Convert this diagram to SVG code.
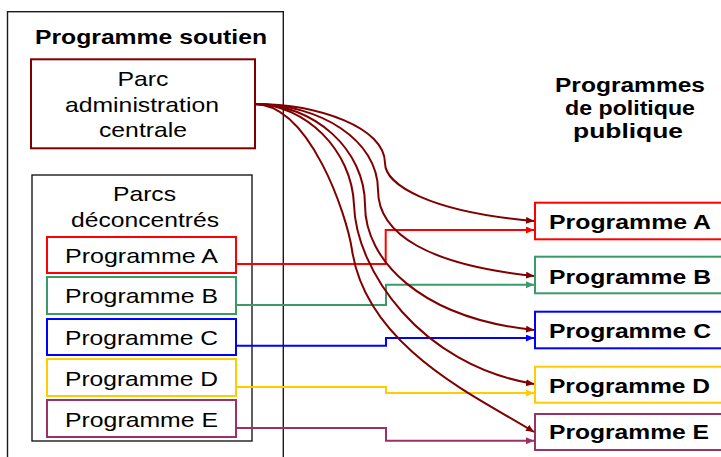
<svg xmlns="http://www.w3.org/2000/svg" width="721" height="457" viewBox="0 0 721 457">
<style>
text{font-family:"Liberation Sans",Arial,sans-serif;fill:#000}
.b{font-weight:bold}
.r{font-size:21px}
.h{font-size:21px;font-weight:bold}
.frame{fill:none;stroke:#1a1a1a;stroke-width:1.4}
.box{fill:#fff;stroke-width:2}
.ln{fill:none;stroke-width:2}
</style>
<defs>
<marker id="mDR" markerUnits="userSpaceOnUse" markerWidth="9" markerHeight="8" refX="8" refY="3.5" orient="auto"><path d="M0,0 L8,3.5 L0,7 z" fill="#800000"/></marker>
<marker id="mA" markerUnits="userSpaceOnUse" markerWidth="9" markerHeight="8" refX="8" refY="3.5" orient="auto"><path d="M0,0 L8,3.5 L0,7 z" fill="#FF0000"/></marker>
<marker id="mB" markerUnits="userSpaceOnUse" markerWidth="9" markerHeight="8" refX="8" refY="3.5" orient="auto"><path d="M0,0 L8,3.5 L0,7 z" fill="#3A9A6A"/></marker>
<marker id="mC" markerUnits="userSpaceOnUse" markerWidth="9" markerHeight="8" refX="8" refY="3.5" orient="auto"><path d="M0,0 L8,3.5 L0,7 z" fill="#0000FF"/></marker>
<marker id="mD" markerUnits="userSpaceOnUse" markerWidth="9" markerHeight="8" refX="8" refY="3.5" orient="auto"><path d="M0,0 L8,3.5 L0,7 z" fill="#FFCC00"/></marker>
<marker id="mE" markerUnits="userSpaceOnUse" markerWidth="9" markerHeight="8" refX="8" refY="3.5" orient="auto"><path d="M0,0 L8,3.5 L0,7 z" fill="#993366"/></marker>
</defs>
<rect width="721" height="457" fill="#fff"/>

<g id="programme-soutien">
<rect class="frame" x="7.5" y="11.7" width="275.8" height="460"/>
<text class="h" x="35" y="44.3" textLength="232" lengthAdjust="spacingAndGlyphs">Programme soutien</text>
</g>

<g id="parc-administration-centrale">
<rect class="box" x="31" y="59.3" width="224" height="89" stroke="#800000"/>
<text class="r" x="143" y="86" text-anchor="middle" textLength="51" lengthAdjust="spacingAndGlyphs">Parc</text>
<text class="r" x="142" y="111.7" text-anchor="middle" textLength="154" lengthAdjust="spacingAndGlyphs">administration</text>
<text class="r" x="143" y="137.3" text-anchor="middle" textLength="88" lengthAdjust="spacingAndGlyphs">centrale</text>
</g>

<g id="parcs-deconcentres">
<rect class="frame" x="32" y="175" width="220" height="266"/>
<text class="r" x="144.5" y="200.7" text-anchor="middle" textLength="63" lengthAdjust="spacingAndGlyphs">Parcs</text>
<text class="r" x="145" y="226.7" text-anchor="middle" textLength="148" lengthAdjust="spacingAndGlyphs">déconcentrés</text>
</g>

<g id="src-a"><rect class="box" x="47" y="237" width="189" height="36" stroke="#FF0000"/><text class="r" x="141.5" y="262.7" text-anchor="middle" textLength="153" lengthAdjust="spacingAndGlyphs">Programme A</text></g>
<g id="src-b"><rect class="box" x="47" y="277" width="189" height="37" stroke="#3A9A6A"/><text class="r" x="141.5" y="303.3" text-anchor="middle" textLength="153" lengthAdjust="spacingAndGlyphs">Programme B</text></g>
<g id="src-c"><rect class="box" x="47" y="319" width="189" height="36" stroke="#0000FF"/><text class="r" x="141.5" y="345" text-anchor="middle" textLength="153" lengthAdjust="spacingAndGlyphs">Programme C</text></g>
<g id="src-d"><rect class="box" x="47" y="359" width="189" height="37" stroke="#FFCC00"/><text class="r" x="141.5" y="386" text-anchor="middle" textLength="153" lengthAdjust="spacingAndGlyphs">Programme D</text></g>
<g id="src-e"><rect class="box" x="47" y="400" width="189" height="37" stroke="#993366"/><text class="r" x="141.5" y="426.7" text-anchor="middle" textLength="153" lengthAdjust="spacingAndGlyphs">Programme E</text></g>

<g id="programmes-politique-publique">
<text class="b" font-size="20" x="630" y="91.7" text-anchor="middle" textLength="150" lengthAdjust="spacingAndGlyphs">Programmes</text>
<text class="b" font-size="20" x="630" y="115" text-anchor="middle" textLength="130" lengthAdjust="spacingAndGlyphs">de politique</text>
<text class="b" font-size="20" x="628" y="138" text-anchor="middle" textLength="110" lengthAdjust="spacingAndGlyphs">publique</text>
</g>

<g id="dst-a"><rect class="box" x="535" y="202.7" width="200" height="36.6" stroke="#FF0000"/><text class="h" x="549" y="229.3" textLength="162" lengthAdjust="spacingAndGlyphs">Programme A</text></g>
<g id="dst-b"><rect class="box" x="535" y="256.7" width="200" height="36.6" stroke="#3A9A6A"/><text class="h" x="549" y="284" textLength="162" lengthAdjust="spacingAndGlyphs">Programme B</text></g>
<g id="dst-c"><rect class="box" x="535" y="311.7" width="200" height="36.6" stroke="#0000FF"/><text class="h" x="549" y="337.7" textLength="162" lengthAdjust="spacingAndGlyphs">Programme C</text></g>
<g id="dst-d"><rect class="box" x="535" y="366.7" width="200" height="36" stroke="#FFCC00"/><text class="h" x="549" y="392.7" textLength="161" lengthAdjust="spacingAndGlyphs">Programme D</text></g>
<g id="dst-e"><rect class="box" x="535" y="414" width="200" height="36" stroke="#993366"/><text class="h" x="549" y="439.3" textLength="160" lengthAdjust="spacingAndGlyphs">Programme E</text></g>

<g id="connectors">
<path class="ln" stroke="#FF0000" marker-end="url(#mA)" d="M236,264 H385.7 V230 H534"/>
<path class="ln" stroke="#3A9A6A" marker-end="url(#mB)" d="M236,305 H386 V284.7 H534"/>
<path class="ln" stroke="#0000FF" marker-end="url(#mC)" d="M236,345.7 H386 V338 H534"/>
<path class="ln" stroke="#FFCC00" marker-end="url(#mD)" d="M236,387 H386 V393 H534"/>
<path class="ln" stroke="#993366" marker-end="url(#mE)" d="M236,428 H386 V440.7 H534"/>
<path class="ln" stroke="#800000" marker-end="url(#mDR)" d="M254,104 C320,104 385,128 385,163 C385,185 430,212 534,221"/>
<path class="ln" stroke="#800000" marker-end="url(#mDR)" d="M254,104 C320,104 378,140 378,190 C378,235 430,265 534,276"/>
<path class="ln" stroke="#800000" marker-end="url(#mDR)" d="M254,104 C315,104 365,150 365,205 C365,260 420,318 534,330"/>
<path class="ln" stroke="#800000" marker-end="url(#mDR)" d="M254,104 C305,104 352,150 354,205 C356,270 420,365 534,384"/>
<path class="ln" stroke="#800000" marker-end="url(#mDR)" d="M254,104 C310,104 346.75,215 352,250 C367,350 484,400 534,432"/>
</g>
</svg>
